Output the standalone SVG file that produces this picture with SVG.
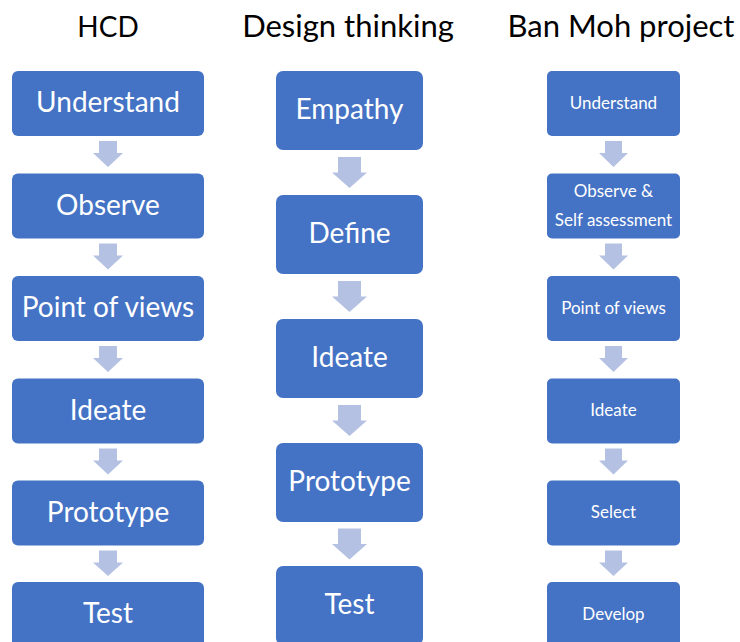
<svg xmlns="http://www.w3.org/2000/svg" width="740" height="642" viewBox="0 0 740 642">
<style>
.box{fill:#4472C4;}
.arr{fill:#B4C1E2;}
.title{font-family:Lato,"Liberation Sans",sans-serif;font-size:31px;fill:#000;text-anchor:middle;}
.t1{font-family:Lato,"Liberation Sans",sans-serif;font-size:28px;fill:#fff;text-anchor:middle;}
.t2{font-family:Lato,"Liberation Sans",sans-serif;font-size:28px;fill:#fff;text-anchor:middle;}
.t3{font-family:Lato,"Liberation Sans",sans-serif;font-size:17px;fill:#fff;text-anchor:middle;}
</style>
<rect width="740" height="642" fill="#fff"/>
<g id="titles">
<text class="title" x="108" y="37" style="font-size:28px">HCD</text>
<text class="title" x="348" y="37">Design thinking</text>
<text class="title" x="621" y="37">Ban Moh project</text>
</g>
<g id="connectors">
<polygon class="arr" points="99,141 117,141 117,153 123,153 108,167 93,153 99,153"/>
<polygon class="arr" points="99,243.5 117,243.5 117,255.5 123,255.5 108,269.5 93,255.5 99,255.5"/>
<polygon class="arr" points="99,346 117,346 117,358 123,358 108,372 93,358 99,358"/>
<polygon class="arr" points="99,448.5 117,448.5 117,460.5 123,460.5 108,474.5 93,460.5 99,460.5"/>
<polygon class="arr" points="99,550.5 117,550.5 117,562.5 123,562.5 108,576 93,562.5 99,562.5"/>
<polygon class="arr" points="338,157 361,157 361,172.5 367,172.5 349.5,188 332,172.5 338,172.5"/>
<polygon class="arr" points="338,281 361,281 361,296.5 367,296.5 349.5,312 332,296.5 338,296.5"/>
<polygon class="arr" points="338,405 361,405 361,420.5 367,420.5 349.5,436 332,420.5 338,420.5"/>
<polygon class="arr" points="338,528.5 361,528.5 361,544 367,544 349.5,559.5 332,544 338,544"/>
<polygon class="arr" points="605,141 622,141 622,153 628,153 613.5,167 599,153 605,153"/>
<polygon class="arr" points="605,243.5 622,243.5 622,255.5 628,255.5 613.5,269.5 599,255.5 605,255.5"/>
<polygon class="arr" points="605,346 622,346 622,358 628,358 613.5,372 599,358 605,358"/>
<polygon class="arr" points="605,448.5 622,448.5 622,460.5 628,460.5 613.5,474.5 599,460.5 605,460.5"/>
<polygon class="arr" points="605,550.5 622,550.5 622,562.5 628,562.5 613.5,576 599,562.5 605,562.5"/>
</g>
<g id="hcd-understand"><rect class="box" x="12" y="71" width="192" height="65" rx="6"/><text class="t1" x="108" y="112">Understand</text></g>
<g id="hcd-observe"><rect class="box" x="12" y="173.5" width="192" height="65" rx="6"/><text class="t1" x="108" y="214.5">Observe</text></g>
<g id="hcd-pov"><rect class="box" x="12" y="276" width="192" height="65" rx="6"/><text class="t1" x="108" y="317">Point of views</text></g>
<g id="hcd-ideate"><rect class="box" x="12" y="378.5" width="192" height="65" rx="6"/><text class="t1" x="108" y="419.5">Ideate</text></g>
<g id="hcd-prototype"><rect class="box" x="12" y="480.5" width="192" height="65" rx="6"/><text class="t1" x="108" y="521.5">Prototype</text></g>
<g id="hcd-test"><rect class="box" x="12" y="582" width="192" height="65" rx="6"/><text class="t1" x="108" y="623">Test</text></g>
<g id="dt-empathy"><rect class="box" x="276" y="71" width="147" height="79" rx="7"/><text class="t2" x="349.5" y="119">Empathy</text></g>
<g id="dt-define"><rect class="box" x="276" y="195" width="147" height="79" rx="7"/><text class="t2" x="349.5" y="243">Define</text></g>
<g id="dt-ideate"><rect class="box" x="276" y="319" width="147" height="79" rx="7"/><text class="t2" x="349.5" y="367">Ideate</text></g>
<g id="dt-prototype"><rect class="box" x="276" y="443" width="147" height="79" rx="7"/><text class="t2" x="349.5" y="491">Prototype</text></g>
<g id="dt-test"><rect class="box" x="276" y="566" width="147" height="79" rx="7"/><text class="t2" x="349.5" y="614">Test</text></g>
<g id="bm-understand"><rect class="box" x="547" y="71" width="133" height="65" rx="5"/><text class="t3" x="613.5" y="109">Understand</text></g>
<g id="bm-observe"><rect class="box" x="547" y="173.5" width="133" height="65" rx="5"/><text class="t3" x="613.5" y="197">Observe &amp;</text><text class="t3" x="613.5" y="225.5">Self assessment</text></g>
<g id="bm-pov"><rect class="box" x="547" y="276" width="133" height="65" rx="5"/><text class="t3" x="613.5" y="313.5">Point of views</text></g>
<g id="bm-ideate"><rect class="box" x="547" y="378.5" width="133" height="65" rx="5"/><text class="t3" x="613.5" y="416">Ideate</text></g>
<g id="bm-select"><rect class="box" x="547" y="480.5" width="133" height="65" rx="5"/><text class="t3" x="613.5" y="518">Select</text></g>
<g id="bm-develop"><rect class="box" x="547" y="582" width="133" height="65" rx="5"/><text class="t3" x="613.5" y="619.5">Develop</text></g>
</svg>
